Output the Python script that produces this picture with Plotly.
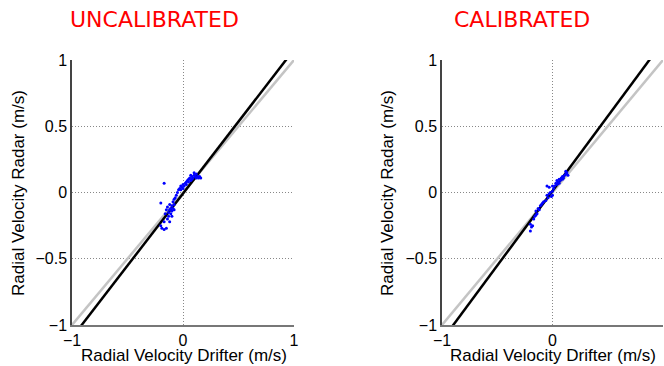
import plotly.graph_objects as go

panel_titles = ["UNCALIBRATED", "CALIBRATED"]
x_label = "Radial Velocity Drifter (m/s)"
y_label = "Radial Velocity Radar (m/s)"
tick_vals = [-1, -0.5, 0, 0.5, 1]
tick_text = ["\u22121", "\u22120.5", "0", "0.5", "1"]
x_tick_vals = [-1, 0, 1]
x_tick_text = ["\u22121", "0", "1"]

# regression fits (slope, intercept) and 1:1 reference line
uncal_fit = [1.087, -0.008]
cal_fit = [1.127, 0.012]
ref_line = [1.0, 0.0]
line_x = [-1.2, 1.2]

uncal_x = [-0.05, -0.04, -0.03, -0.02, -0.01, 0.00, 0.01, 0.02, 0.03, 0.03, 0.04, 0.05, 0.05, 0.06,
           0.07, 0.08, 0.08, 0.09, 0.10, 0.11, 0.12, 0.13, 0.14, 0.15, 0.16, 0.12, 0.10, 0.07, -0.02, 0.00,
           -0.06, -0.07, -0.08, -0.09, -0.08, -0.10, -0.11, -0.09, -0.12, -0.10, -0.13, -0.11, -0.14, -0.12,
           -0.15, -0.13, -0.16, -0.10, -0.08, -0.14, -0.20, -0.17, -0.12, -0.20, -0.19, -0.17, -0.15, -0.17]
uncal_y = [0.00, 0.02, 0.03, 0.05, 0.04, 0.06, 0.05, 0.07, 0.08, 0.06, 0.09, 0.10, 0.08, 0.11,
           0.09, 0.12, 0.10, 0.11, 0.13, 0.12, 0.11, 0.12, 0.11, 0.12, 0.11, 0.14, 0.15, 0.13, 0.02, 0.03,
           -0.02, -0.04, -0.05, -0.07, -0.09, -0.10, -0.12, -0.12, -0.13, -0.14, -0.15, -0.16, -0.11, -0.09,
           -0.13, -0.18, -0.16, -0.18, -0.13, -0.20, -0.08, -0.22, -0.22, -0.25, -0.27, -0.28, -0.27, 0.07]

cal_x = [-0.20, -0.19, -0.20, -0.18, -0.17, -0.16, -0.15, -0.14, -0.15, -0.13, -0.12, -0.11, -0.10, -0.09,
         -0.08, -0.06, -0.05, -0.04, -0.03, -0.02, -0.01, 0.00, 0.00, -0.03, -0.05, 0.01, 0.02, 0.03,
         0.04, 0.04, 0.05, 0.06, 0.07, 0.08, 0.09, 0.10, 0.11, 0.12, 0.13, 0.14, 0.12, 0.09, 0.06, 0.00]
cal_y = [-0.29, -0.26, -0.24, -0.25, -0.20, -0.18, -0.17, -0.16, -0.14, -0.12, -0.13, -0.10, -0.09, -0.08,
         -0.07, -0.06, -0.02, -0.04, -0.01, 0.00, -0.03, -0.02, 0.01, 0.04, 0.05, 0.03, 0.05, 0.07,
         0.06, 0.09, 0.08, 0.10, 0.09, 0.11, 0.12, 0.11, 0.13, 0.14, 0.15, 0.13, 0.16, 0.10, 0.07, 0.05]

panels = [(uncal_x, uncal_y, uncal_fit), (cal_x, cal_y, cal_fit)]
W, H = 664, 366
x_px = [[72, 294], [442, 663]]
y_px = [60, 325]
x_domains = [[a / W, b / W] for a, b in x_px]
y_domain = [1 - y_px[1] / H, 1 - y_px[0] / H]

fig = go.Figure()
for i, (px, py, fit) in enumerate(panels):
    xa = "x" if i == 0 else "x2"
    ya = "y" if i == 0 else "y2"
    fig.add_trace(go.Scatter(x=line_x, y=[ref_line[0] * v + ref_line[1] for v in line_x],
                             mode="lines", line=dict(color="#c4c4c4", width=2.5),
                             xaxis=xa, yaxis=ya, showlegend=False))
    fig.add_trace(go.Scatter(x=line_x, y=[fit[0] * v + fit[1] for v in line_x],
                             mode="lines", line=dict(color="black", width=2.5),
                             xaxis=xa, yaxis=ya, showlegend=False))
    fig.add_trace(go.Scatter(x=px, y=py, mode="markers",
                             marker=dict(color="blue", size=3, line=dict(width=0)),
                             xaxis=xa, yaxis=ya, showlegend=False))

tick_font = dict(family="Liberation Sans, Arial, sans-serif", size=16, color="black")
label_font = dict(family="Liberation Sans, Arial, sans-serif", size=17, color="black")
common_x = dict(range=[-1, 1], tickvals=x_tick_vals, ticktext=x_tick_text, showgrid=True,
                griddash="1px,2px", gridcolor="#888888", gridwidth=1, zeroline=False,
                showline=True, linecolor="#777777", linewidth=1.5, ticks="", tickfont=tick_font,
                automargin=False, fixedrange=True)
common_y = dict(range=[-1, 1], tickvals=tick_vals, ticktext=tick_text, showgrid=True,
                griddash="1px,2px", gridcolor="#888888", gridwidth=1, zeroline=False,
                showline=True, linecolor="#444444", linewidth=1.5, ticks="", tickfont=tick_font,
                automargin=False, fixedrange=True)

fig.update_layout(
    width=W, height=H,
    margin=dict(l=0, r=0, t=0, b=0),
    paper_bgcolor="white", plot_bgcolor="white",
    xaxis=dict(domain=x_domains[0], anchor="y", **common_x),
    yaxis=dict(domain=y_domain, anchor="x", **common_y),
    xaxis2=dict(domain=x_domains[1], anchor="y2", **common_x),
    yaxis2=dict(domain=y_domain, anchor="x2", **common_y),
)

title_centers = [154, 522]
for t, cx in zip(panel_titles, title_centers):
    fig.add_annotation(text=t, x=cx / W, y=1 - 20 / H, xref="paper", yref="paper",
                       showarrow=False, xanchor="center", yanchor="middle",
                       font=dict(family="DejaVu Sans, sans-serif", size=22, color="red"))

xlabel_centers = [184, 553]
ylabel_centers = [18, 387]
for cx in xlabel_centers:
    fig.add_annotation(text=x_label, x=cx / W, y=0.0, xref="paper", yref="paper",
                       showarrow=False, xanchor="center", yanchor="bottom", font=label_font,
                       borderpad=0)
for cx in ylabel_centers:
    fig.add_annotation(text=y_label, x=cx / W, y=1 - 193 / H, xref="paper", yref="paper",
                       showarrow=False, xanchor="center", yanchor="middle", textangle=-90,
                       font=label_font)

fig.write_html("out.html", post_script="document.body.style.margin='0';",
               config={"displayModeBar": False})
